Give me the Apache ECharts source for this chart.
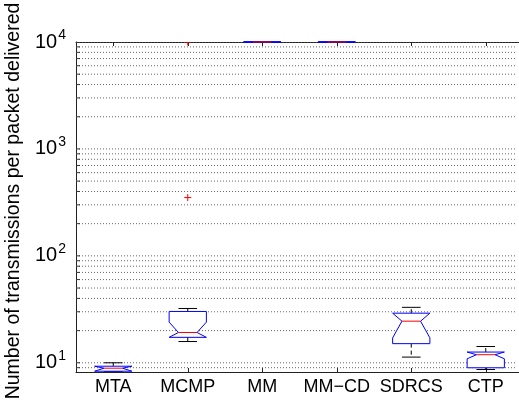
<!DOCTYPE html>
<html><head><meta charset="utf-8">
<script src="https://cdn.jsdelivr.net/npm/echarts@6/dist/echarts.min.js"></script>
<style>html,body{margin:0;padding:0;background:#fff;overflow:hidden}#c{width:530px;height:409px}</style>
</head><body><div id="c"></div>
<script>
// ---- data ----
const categories = ['MTA', 'MCMP', 'MM', 'MM\u2212CD', 'SDRCS', 'CTP'];
const whiskerLow  = [8.3,  15.8, 10000, 10000, 11.3, 8.65];
const q1          = [8.34, 17.3, 10000, 10000, 15.1, 8.98];
const notchLow    = [8.34, 17.3, 10000, 10000, 17.1, 10.9];
const median      = [8.9,  19.2, 10000, 10000, 24.5, 11.9];
const notchHigh   = [9.29, 24.0, 10000, 10000, 29.1, 12.6];
const q3          = [9.29, 30.2, 10000, 10000, 29.1, 12.6];
const whiskerHigh = [10.0, 32.2, 10000, 10000, 33.0, 14.2];
const outlierCategory = [1, 1];
const outlierValue    = [351, 10000];
const yTickLabels = [10, 100, 1000, 10000];
const gridValues = [9, 10, 20, 30, 40, 50, 60, 70, 80, 90,
  100, 200, 300, 400, 500, 600, 700, 800, 900,
  1000, 2000, 3000, 4000, 5000, 6000, 7000, 8000, 9000, 10000];
const yMin = 8.2, yMax = 10000;
const yTitle = 'Number of transmissions per packet delivered';

const FONT = '"Liberation Sans", Arial, Helvetica, sans-serif';
const boxData = categories.map((c, i) => [i, whiskerLow[i], q1[i], notchLow[i], median[i], notchHigh[i], q3[i], whiskerHigh[i]]);
const outlierData = outlierValue.map((v, k) => [outlierCategory[k], v]);

const chart = echarts.init(document.getElementById('c'), null, {renderer: 'canvas'});
chart.setOption({
  animation: false,
  backgroundColor: '#fff',
  grid: {show: false, borderWidth: 0, left: 76, top: 42, width: 447, height: 330, containLabel: false, outerBoundsMode: 'none'},
  graphic: [{
    type: 'text', x: 14, y: 201, rotation: Math.PI / 2,
    style: {text: yTitle, font: '19.5px ' + FONT, fill: '#000', align: 'center', verticalAlign: 'middle'}
  }, {
    type: 'rect', z: 100, silent: true,
    shape: {x: 516.5, y: 43, width: 20, height: 328},
    style: {fill: '#fff'}
  }],
  xAxis: [{
    type: 'category', data: categories, position: 'bottom',
    axisLine: {show: true, onZero: false, lineStyle: {color: '#222', width: 1}},
    axisTick: {show: true, inside: true, alignWithLabel: true, length: 4, lineStyle: {color: '#222'}},
    axisLabel: {color: '#000', fontSize: 18, fontFamily: FONT, margin: 6, interval: 0, hideOverlap: false},
    splitLine: {show: false}
  }, {
    type: 'category', data: categories, position: 'top',
    axisLine: {show: true, onZero: false, lineStyle: {color: '#222', width: 1}},
    axisTick: {show: true, inside: true, alignWithLabel: true, length: 4, lineStyle: {color: '#222'}},
    axisLabel: {show: false},
    splitLine: {show: false}
  }],
  yAxis: {
    type: 'log', logBase: 10, min: yMin, max: yMax, position: 'left',
    axisLine: {show: true, onZero: false, lineStyle: {color: '#222', width: 1}},
    axisTick: {show: false},
    splitLine: {show: false},
    axisLabel: {
      margin: 10,
      formatter: function (v) {
        for (const t of yTickLabels) {
          if (Math.abs(v - t) / t < 1e-6) return '{b|10}{s|' + Math.round(Math.log10(t)) + '}';
        }
        return '';
      },
      rich: {
        b: {fontSize: 20, fontFamily: FONT, color: '#000'},
        s: {fontSize: 14, fontFamily: FONT, color: '#000', padding: [0, 0, 14, 1]}
      }
    }
  },
  series: [{
    type: 'custom', name: 'grid', z: 1, silent: true, clip: true,
    data: gridValues.map(v => [0, v]),
    encode: {x: 0, y: 1},
    renderItem: function (params, api) {
      const y = api.coord([0, api.value(1)])[1];
      const cs = params.coordSys;
      return {type: 'group', children: [
        {type: 'line', shape: {x1: cs.x, y1: y, x2: cs.x + cs.width, y2: y},
          style: {stroke: '#666', lineWidth: 1, lineDash: [1, 2]}},
        {type: 'line', shape: {x1: cs.x, y1: y, x2: cs.x + 4, y2: y},
          style: {stroke: '#333', lineWidth: 1}}
      ]};
    }
  }, {
    type: 'custom', name: 'box', z: 3, silent: true,
    data: boxData,
    encode: {x: 0, y: [1, 2, 3, 4, 5, 6, 7]},
    renderItem: function (params, api) {
      const i = api.value(0);
      const band = api.size([1, 1])[0];
      const hw = band * 0.25, nw = band * 0.125;
      const x = api.coord([i, api.value(4)])[0];
      const Y = k => api.coord([i, api.value(k)])[1];
      const wlo = Y(1), bq1 = Y(2), nlo = Y(3), med = Y(4), nhi = Y(5), bq3 = Y(6), whi = Y(7);
      const blk = {stroke: '#000', lineWidth: 1};
      const dash = {stroke: '#000', lineWidth: 1, lineDash: [4, 3]};
      return {type: 'group', children: [
        {type: 'line', shape: {x1: x, y1: bq3, x2: x, y2: whi}, style: dash},
        {type: 'line', shape: {x1: x, y1: bq1, x2: x, y2: wlo}, style: dash},
        {type: 'line', shape: {x1: x - nw, y1: whi, x2: x + nw, y2: whi}, style: blk},
        {type: 'line', shape: {x1: x - nw, y1: wlo, x2: x + nw, y2: wlo}, style: blk},
        {type: 'polygon', shape: {points: [
          [x - hw, bq1], [x - hw, nlo], [x - nw, med], [x - hw, nhi], [x - hw, bq3],
          [x + hw, bq3], [x + hw, nhi], [x + nw, med], [x + hw, nlo], [x + hw, bq1]]},
          style: {fill: '#fff', stroke: '#0000ff', lineWidth: 1}},
        {type: 'line', shape: {x1: x - nw, y1: med, x2: x + nw, y2: med}, style: {stroke: '#ff0000', lineWidth: 1}}
      ]};
    }
  }, {
    type: 'custom', name: 'outliers', z: 4, silent: true, clip: true,
    data: outlierData,
    encode: {x: 0, y: 1},
    renderItem: function (params, api) {
      const p = api.coord([api.value(0), api.value(1)]);
      const s = 3.5;
      const st = {stroke: '#ff0000', lineWidth: 1};
      return {type: 'group', children: [
        {type: 'line', shape: {x1: p[0] - s, y1: p[1], x2: p[0] + s, y2: p[1]}, style: st},
        {type: 'line', shape: {x1: p[0], y1: p[1] - s, x2: p[0], y2: p[1] + s}, style: st}
      ]};
    }
  }]
});
</script></body></html>
